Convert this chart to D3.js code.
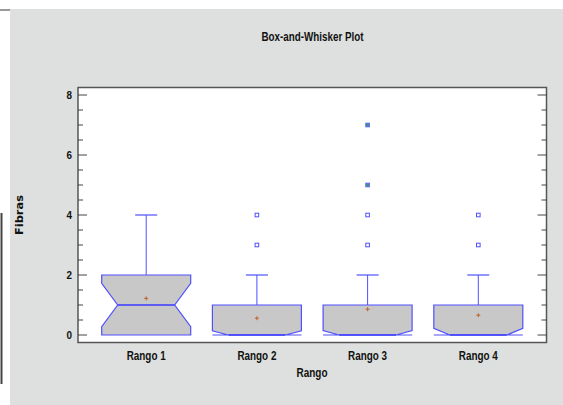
<!DOCTYPE html>
<html>
<head>
<meta charset="utf-8">
<script src="https://cdn.jsdelivr.net/npm/d3@7"></script>
<style>
  html, body { margin: 0; padding: 0; background: #fff; }
  svg { display: block; }
  text { font-family: "Liberation Sans Narrow", "Arial Narrow", "Liberation Sans", sans-serif; font-weight: bold; fill: #111; }
</style>
</head>
<body>
<script>
// Fibras per Rango: box summary values
const categories = ["Rango 1", "Rango 2", "Rango 3", "Rango 4"];
const q1 = [0, 0, 0, 0];
const medians = [1, 0, 0, 0];
const q3 = [2, 1, 1, 1];
const whiskerHigh = [4, 2, 2, 2];
const notchHalf = [0.72, 0.14, 0.15, 0.22];
const means = [1.22, 0.56, 0.86, 0.66];
const outliers = [[], [3, 4], [3, 4], [3, 4]];
const farOutliers = [[], [], [5, 7], []];
const yTicks = [0, 2, 4, 6, 8];

const W = 563, H = 405;
const margin = { left: 78, right: 16.5, top: 87.5, bottom: 62.5 };

const svg = d3.select("body").append("svg").attr("width", W).attr("height", H);

// condensed text helper
function label(sel, txt, len) {
  return sel.text(txt).attr("textLength", len).attr("lengthAdjust", "spacingAndGlyphs");
}

// panel background
svg.append("rect").attr("x", 10).attr("y", 9).attr("width", W - 10).attr("height", H - 9).attr("fill", "#dde0de");
svg.append("rect").attr("x", 0).attr("y", 9).attr("width", 10).attr("height", 2).attr("fill", "#9a9a9a");
svg.append("rect").attr("x", 0.5).attr("y", 213).attr("width", 2).attr("height", 171).attr("fill", "#444");

const x0 = margin.left, x1 = W - margin.right;
const y0 = margin.top, y1 = H - margin.bottom;

svg.append("rect").attr("x", x0).attr("y", y0).attr("width", x1 - x0).attr("height", y1 - y0)
  .attr("fill", "#fff").attr("stroke", "#555").attr("stroke-width", 1.5);

const x = d3.scalePoint().domain(categories).range([x0, x1]).padding(0.616);
const y = d3.scaleLinear().domain([-0.25, 8.25]).range([y1, y0]);

// axis ticks on both sides: major every 2, minor every 0.5, drawn inward
const minor = d3.range(0, 8.01, 0.5);
const axL = svg.append("g");
minor.forEach(v => {
  const major = v % 2 === 0;
  axL.append("line").attr("x1", x0).attr("x2", x0 + (major ? 9 : 5))
    .attr("y1", y(v)).attr("y2", y(v)).attr("stroke", "#444").attr("stroke-width", 1);
  axL.append("line").attr("x1", x1).attr("x2", x1 - (major ? 9 : 5))
    .attr("y1", y(v)).attr("y2", y(v)).attr("stroke", "#444").attr("stroke-width", 1);
});
svg.append("g").selectAll("text").data(yTicks).join("text")
  .attr("x", x0 - 6).attr("y", d => y(d)).attr("dy", "0.36em")
  .attr("text-anchor", "end").attr("font-size", 11.5)
  .each(function(d) { label(d3.select(this), d, 5.5); });

// box geometry
const boxW = 89, inset = 16, capW = 22;

categories.forEach((c, i) => {
  const cx = x(c);
  const bl = cx - boxW / 2, br = cx + boxW / 2;
  const nHi = Math.min(q3[i], medians[i] + notchHalf[i]);
  const nLo = Math.max(q1[i], medians[i] - notchHalf[i]);
  const g = svg.append("g");

  // whisker
  g.append("line").attr("x1", cx).attr("x2", cx).attr("y1", y(q3[i])).attr("y2", y(whiskerHigh[i]))
    .attr("stroke", "#5050ff").attr("stroke-width", 1);
  g.append("line").attr("x1", cx - capW / 2).attr("x2", cx + capW / 2)
    .attr("y1", y(whiskerHigh[i])).attr("y2", y(whiskerHigh[i]))
    .attr("stroke", "#5050ff").attr("stroke-width", 1.2);

  // notched box
  const pts = [
    [bl, y(q3[i])], [br, y(q3[i])], [br, y(nHi)], [br - inset, y(medians[i])],
    [br, y(nLo)], [br, y(q1[i])], [bl, y(q1[i])], [bl, y(nLo)],
    [bl + inset, y(medians[i])], [bl, y(nHi)]
  ];
  g.append("path").attr("d", d3.line()(pts) + "Z")
    .attr("fill", "#c8c8c8").attr("stroke", "#5050ff").attr("stroke-width", 1.2);
  g.append("line").attr("x1", bl + inset).attr("x2", br - inset)
    .attr("y1", y(medians[i])).attr("y2", y(medians[i]))
    .attr("stroke", "#3a3aff").attr("stroke-width", 1.5);

  // mean marker
  const my = y(means[i]);
  g.append("path").attr("d", `M${cx - 2},${my}H${cx + 2}M${cx},${my - 2}V${my + 2}`)
    .attr("stroke", "#c0602a").attr("stroke-width", 1);

  // outliers
  outliers[i].forEach(v => {
    g.append("rect").attr("x", cx - 1.8).attr("y", y(v) - 1.8).attr("width", 3.6).attr("height", 3.6)
      .attr("fill", "#fff").attr("stroke", "#5050ff").attr("stroke-width", 1);
  });
  farOutliers[i].forEach(v => {
    g.append("rect").attr("x", cx - 1.8).attr("y", y(v) - 1.8).attr("width", 3.6).attr("height", 3.6)
      .attr("fill", "#3f9a6a").attr("stroke", "#6060ff").attr("stroke-width", 1);
  });
});

// category labels
svg.append("g").selectAll("text").data(categories).join("text")
  .attr("x", d => x(d)).attr("y", y1 + 17).attr("text-anchor", "middle")
  .attr("font-size", 12.5)
  .each(function(d) { label(d3.select(this), d, 39); });

// titles
label(svg.append("text").attr("x", 312.5).attr("y", 41).attr("text-anchor", "middle")
  .attr("font-size", 12.5), "Box-and-Whisker Plot", 102);
label(svg.append("text").attr("x", 312).attr("y", 377).attr("text-anchor", "middle")
  .attr("font-size", 12.5), "Rango", 31);
label(svg.append("text").attr("transform", "translate(23,215) rotate(-90)").attr("text-anchor", "middle")
  .style("font-family", "'DejaVu Sans', sans-serif").attr("font-size", 10.5), "Fibras", 40);
</script>
</body>
</html>
